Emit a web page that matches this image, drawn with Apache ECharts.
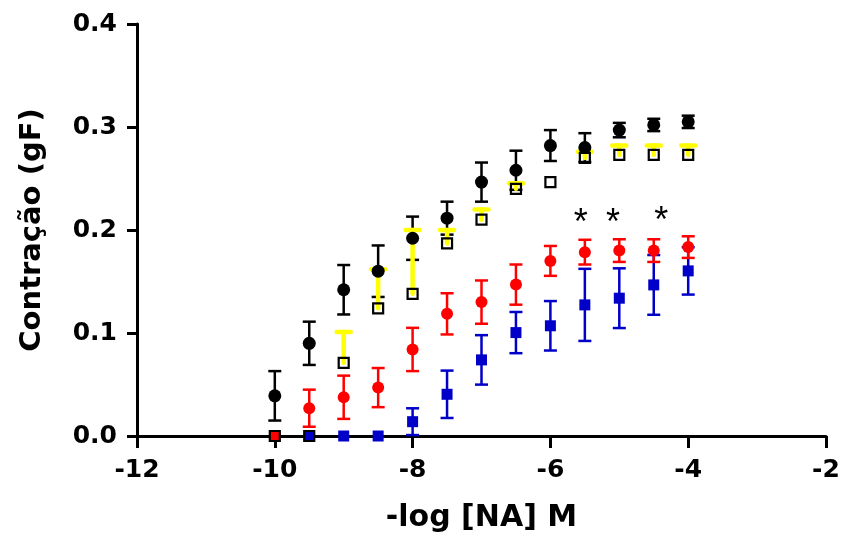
<!DOCTYPE html>
<html>
<head>
<meta charset="utf-8">
<script src="https://cdn.jsdelivr.net/npm/echarts@6/dist/echarts.min.js"></script>
<style>
html,body{margin:0;padding:0;background:#fff;}
#chart{width:842px;height:535px;}
</style>
</head>
<body>
<div id="chart"></div>
<script>
// ---- data ----
const xVals = [-10, -9.5, -9, -8.5, -8, -7.5, -7, -6.5, -6, -5.5, -5, -4.5, -4];

const blackMean = [0.039, 0.090, 0.142, 0.160, 0.192, 0.2115, 0.2465, 0.258, 0.282, 0.280, 0.297, 0.302, 0.305];
const blackSem  = [0.024, 0.021, 0.024, 0.025, 0.021, 0.016, 0.019, 0.019, 0.015, 0.014, 0.007, 0.006, 0.006];

const openMean  = [0, 0, 0.071, 0.124, 0.138, 0.187, 0.210, 0.240, 0.2465, 0.270, 0.273, 0.273, 0.273];
const openSem   = [0, 0, 0.030, 0.038, 0.062, 0.013, 0.010, 0.0055, 0, 0.006, 0.009, 0.009, 0.009];

const redMean   = [0, 0.027, 0.0376, 0.047, 0.084, 0.1186, 0.130, 0.147, 0.170, 0.1785, 0.180, 0.180, 0.1834];
const redSem    = [0, 0.018, 0.021, 0.019, 0.021, 0.020, 0.021, 0.0195, 0.0145, 0.012, 0.011, 0.011, 0.0105];

const blueMean  = [0, 0, 0, 0, 0.0139, 0.0405, 0.0739, 0.1004, 0.107, 0.1273, 0.1338, 0.1467, 0.1603];
const blueSem   = [0, 0, 0, 0, 0.013, 0.023, 0.024, 0.020, 0.024, 0.035, 0.029, 0.029, 0.023];

const asteriskX = [-5.56, -5.09, -4.39];
const asteriskY = [0.214, 0.214, 0.215];

const xTicks = [-12, -10, -8, -6, -4, -2];
const yTicks = [0.0, 0.1, 0.2, 0.3, 0.4];

// ---- helpers ----
function zip3(a, b, c) { return a.map((v, i) => [v, b[i], c[i]]); }
function zip2(a, b) { return a.map((v, i) => [v, b[i]]); }

function errorBarSeries(name, mean, sem, color, lw, capW, upOnly) {
  return {
    name: name,
    type: 'custom',
    data: zip3(xVals, mean, sem),
    encode: { x: 0, y: 1 },
    clip: false,
    renderItem: function (params, api) {
      const x = api.value(0), m = api.value(1), s = api.value(2);
      if (!s) return null;
      const top = api.coord([x, m + s]);
      const bot = api.coord([x, upOnly ? m : m - s]);
      const style = { stroke: color, lineWidth: lw, lineCap: upOnly ? 'round' : 'butt' };
      const children = [
        { type: 'line', shape: { x1: top[0], y1: top[1], x2: bot[0], y2: bot[1] }, style: style },
        { type: 'line', shape: { x1: top[0] - capW / 2, y1: top[1], x2: top[0] + capW / 2, y2: top[1] }, style: style }
      ];
      if (!upOnly) {
        children.push({ type: 'line', shape: { x1: bot[0] - capW / 2, y1: bot[1], x2: bot[0] + capW / 2, y2: bot[1] }, style: style });
      }
      return { type: 'group', children: children };
    }
  };
}

const chart = echarts.init(document.getElementById('chart'), null, { renderer: 'canvas' });

const FONT = 'DejaVu Sans';

const option = {
  animation: false,
  backgroundColor: '#ffffff',
  grid: { left: 137, right: 16, top: 24, bottom: 99, containLabel: false, outerBoundsMode: 'none' },
  xAxis: {
    type: 'value',
    min: xTicks[0], max: xTicks[xTicks.length - 1], interval: 2,
    name: '-log [NA] M',
    nameLocation: 'middle',
    nameGap: 67,
    nameTextStyle: { fontFamily: FONT, fontWeight: 'bold', fontSize: 30, color: '#000' },
    axisLine: { onZero: false, lineStyle: { color: '#000', width: 3 } },
    axisTick: { show: true, length: 12, lineStyle: { color: '#000', width: 3 } },
    axisLabel: { margin: 22, fontFamily: FONT, fontWeight: 'bold', fontSize: 25, color: '#000' },
    splitLine: { show: false }
  },
  yAxis: {
    type: 'value',
    min: yTicks[0], max: yTicks[yTicks.length - 1], interval: 0.1,
    name: 'Contração (gF)',
    nameLocation: 'middle',
    nameGap: 90,
    nameTextStyle: { fontFamily: FONT, fontWeight: 'bold', fontSize: 29, color: '#000' },
    axisLine: { show: true, onZero: false, lineStyle: { color: '#000', width: 3 } },
    axisTick: { show: true, length: 10, lineStyle: { color: '#000', width: 3 } },
    axisLabel: { margin: 20, fontFamily: FONT, fontWeight: 'bold', fontSize: 25, color: '#000',
      formatter: v => v.toFixed(1) },
    splitLine: { show: false }
  },
  series: [
    errorBarSeries('blueErr', blueMean, blueSem, '#0000C8', 2.5, 13, false),
    { name: 'blue', type: 'scatter', data: zip2(xVals, blueMean), symbol: 'rect', symbolSize: 11,
      itemStyle: { color: '#0000C8', opacity: 1 }, clip: false },
    errorBarSeries('redErr', redMean, redSem, '#FF0000', 2.5, 13, false),
    { name: 'red', type: 'scatter', data: zip2(xVals, redMean), symbol: 'circle', symbolSize: 12,
      itemStyle: { color: '#FF0000', opacity: 1 }, clip: false },
    errorBarSeries('blackErr', blackMean, blackSem, '#000000', 2.5, 13, false),
    { name: 'black', type: 'scatter', data: zip2(xVals, blackMean), symbol: 'circle', symbolSize: 13,
      itemStyle: { color: '#000000', opacity: 1 }, clip: false },
    errorBarSeries('yellowErr', openMean, openSem, '#FFFF00', 4.5, 14, true),
    { name: 'open', type: 'scatter', data: zip2(xVals, openMean), symbol: 'rect', symbolSize: 10,
      itemStyle: { color: 'rgba(255,255,255,0)', borderColor: '#000', borderWidth: 2.2, opacity: 1 }, clip: false },
    {
      name: 'asterisks', type: 'custom',
      data: zip2(asteriskX, asteriskY),
      encode: { x: 0, y: 1 },
      renderItem: function (params, api) {
        const p = api.coord([api.value(0), api.value(1)]);
        return { type: 'text', x: p[0], y: p[1] + 8,
          style: { text: '*', fontFamily: 'Liberation Sans', fontSize: 36, fill: '#000',
                   textAlign: 'center', textVerticalAlign: 'middle' } };
      }
    }
  ]
};

chart.setOption(option);
</script>
</body>
</html>
